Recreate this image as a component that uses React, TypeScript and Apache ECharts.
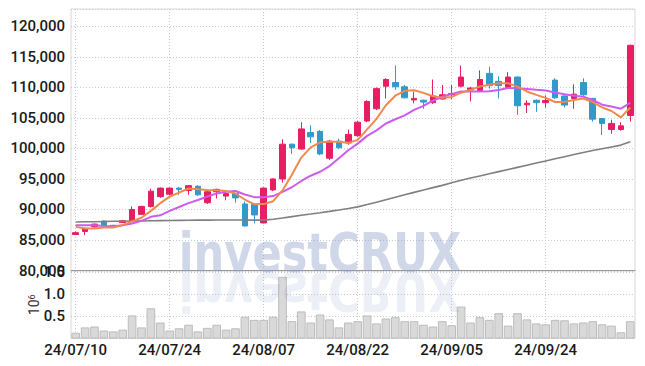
import React, { useEffect, useRef } from 'react';
import * as echarts from 'echarts';

const dates = [
  '24/07/10', '24/07/11', '24/07/12', '24/07/15', '24/07/16', '24/07/17', '24/07/18', '24/07/19', '24/07/22', '24/07/23',
  '24/07/24', '24/07/25', '24/07/26', '24/07/29', '24/07/30', '24/07/31', '24/08/01', '24/08/02', '24/08/05', '24/08/06',
  '24/08/07', '24/08/08', '24/08/09', '24/08/12', '24/08/13', '24/08/14', '24/08/16', '24/08/19', '24/08/20', '24/08/21',
  '24/08/22', '24/08/23', '24/08/26', '24/08/27', '24/08/28', '24/08/29', '24/08/30', '24/09/02', '24/09/03', '24/09/04',
  '24/09/05', '24/09/06', '24/09/09', '24/09/10', '24/09/11', '24/09/12', '24/09/13', '24/09/19', '24/09/20', '24/09/23',
  '24/09/24', '24/09/25', '24/09/26', '24/09/27', '24/09/30', '24/10/02', '24/10/04', '24/10/07', '24/10/08', '24/10/10',
];

const opens = [
  85900, 86400, 87150, 88100, 87400, 87850, 88100, 89200, 90500, 92100,
  92500, 93500, 93100, 93800, 91100, 92900, 92200, 92600, 90900, 90900,
  87800, 93200, 95000, 100700, 99900, 102600, 102800, 98400, 101200, 100900,
  102100, 104500, 106500, 110200, 110800, 110100, 107950, 107900, 107500, 108100,
  108800, 110200, 109600, 109500, 112300, 111000, 110000, 111700, 107150, 107900,
  107500, 111200, 108600, 108200, 110800, 108200, 104900, 103100, 103100, 105400,
];
const closes = [
  86200, 86900, 87600, 87350, 87200, 88150, 90000, 90500, 93000, 93500,
  93500, 93300, 93900, 92400, 92900, 93300, 92600, 91900, 87300, 89100,
  93500, 95000, 100700, 100100, 103200, 101900, 99100, 101200, 100100, 102300,
  104300, 107700, 109800, 111300, 110100, 108300, 108200, 107600, 108600, 108800,
  109000, 111700, 109900, 111300, 110300, 110300, 111700, 107000, 107400, 107500,
  107850, 108300, 107100, 108900, 108800, 104800, 104100, 104100, 103700, 116900,
];
const lows = [
  85800, 85800, 86900, 87200, 87100, 87800, 88000, 89100, 90300, 91900,
  92300, 92400, 92400, 92200, 90900, 91800, 91500, 91100, 87200, 87700,
  87700, 93000, 94400, 99100, 99800, 100900, 98900, 98100, 99900, 100600,
  101900, 104300, 106300, 108200, 109600, 108200, 107400, 106500, 107300, 108000,
  108100, 110000, 107700, 109300, 109800, 108200, 109800, 105500, 105800, 106000,
  106700, 108100, 106700, 106500, 108600, 104400, 102200, 102400, 102900, 104400,
];
const highs = [
  86400, 87000, 87700, 88200, 87500, 88300, 90500, 90600, 93400, 93600,
  93600, 93700, 94000, 94000, 93000, 93400, 92700, 92700, 91300, 91000,
  93600, 95100, 101500, 100800, 104300, 103800, 103000, 101400, 101600, 103100,
  104500, 107900, 110000, 111500, 113600, 110400, 109300, 108000, 111300, 110400,
  110400, 113600, 110100, 112800, 113400, 111800, 112500, 111800, 107900, 108000,
  108700, 111500, 108700, 110500, 111500, 108300, 105000, 104700, 104300, 117000,
];

// volume, in millions of shares
const volumes = [
  0.13, 0.25, 0.27, 0.18, 0.16, 0.20, 0.52, 0.25, 0.68, 0.36,
  0.18, 0.23, 0.31, 0.16, 0.24, 0.31, 0.20, 0.23, 0.49, 0.42,
  0.42, 0.49, 1.39, 0.39, 0.61, 0.36, 0.54, 0.43, 0.25, 0.36,
  0.39, 0.52, 0.34, 0.45, 0.48, 0.39, 0.39, 0.31, 0.27, 0.39,
  0.30, 0.72, 0.36, 0.48, 0.42, 0.57, 0.29, 0.57, 0.43, 0.34,
  0.32, 0.42, 0.41, 0.34, 0.36, 0.39, 0.32, 0.29, 0.14, 0.39,
];

// moving-average values read off the chart where the earlier history is not in view
const ma5Lead = [87150, 86900, 86900, 87050];
const ma10Lead = [87430, 87430, 87430, 87300, 87260, 87400, 87700, 88130, 88790];
const ma60 = [
  87950, 87980, 88000, 88030, 88060, 88080, 88100, 88120, 88150, 88170,
  88190, 88210, 88230, 88250, 88260, 88270, 88280, 88280, 88270, 88260,
  88250, 88400, 88600, 88830, 89060, 89260, 89470, 89690, 89920, 90170,
  90430, 90800, 91200, 91600, 92000, 92400, 92800, 93200, 93580, 93950,
  94380, 94800, 95150, 95500, 95850, 96200, 96550, 96900, 97250, 97600,
  97950, 98300, 98650, 99000, 99330, 99650, 99950, 100250, 100550, 101100,
];

function movingAverage(n: number, lead: number[]) {
  return closes.map((_, i) => {
    if (i < lead.length) return lead[i];
    let s = 0;
    for (let k = i - n + 1; k <= i; k++) s += closes[k];
    return Math.round(s / n);
  });
}

const FONT = 'Roboto, sans-serif';
const UP = '#e81e63';
const DOWN = '#3398cb';
const GRID_LINE = { color: '#c6c9dc', type: [1, 2] as any, width: 1 };

export default function App() {
  const ref = useRef<HTMLDivElement>(null);
  useEffect(() => {
    document.body.style.margin = '0';
    const chart = echarts.init(ref.current!, null, { renderer: 'svg' });
    const ma5 = movingAverage(5, ma5Lead);
    const ma10 = movingAverage(10, ma10Lead);
    const priceMax = Math.max(...highs) * 1.05;
    const labelStyle = { color: '#1a1a1a', fontFamily: FONT, fontSize: 15, fontWeight: 500 };
    const wmBase = {
      text: 'investCRUX', font: 'bold 54px "DejaVu Sans"',
      fontFamily: '"DejaVu Sans"', fontWeight: 'bold', fontSize: 54,
      align: 'center', verticalAlign: 'middle', textAlign: 'center', textVerticalAlign: 'middle',
    };
    const option: any = {
      animation: false,
      backgroundColor: '#ffffff',
      grid: [
        { left: 71, right: 10, top: 9, height: 261.5, show: true, borderColor: '#d8d8d8', borderWidth: 1 },
        { left: 71, right: 10, top: 271, height: 67.5, show: true, borderColor: '#d8d8d8', borderWidth: 1 },
      ],
      xAxis: [
        {
          type: 'category', data: dates, gridIndex: 0, boundaryGap: true,
          axisLabel: { show: false }, axisTick: { show: false },
          axisLine: { show: true, lineStyle: { color: '#999999' } },
          splitLine: { show: true, interval: 9, alignWithLabel: true, lineStyle: GRID_LINE },
        },
        {
          type: 'category', data: dates, gridIndex: 1, boundaryGap: true,
          axisLabel: { ...labelStyle, interval: 9, margin: 4 },
          axisTick: { show: false }, axisLine: { show: false },
          splitLine: { show: true, interval: 9, alignWithLabel: true, lineStyle: GRID_LINE },
        },
      ],
      yAxis: [
        {
          type: 'value', gridIndex: 0, min: 80000, max: priceMax, interval: 5000,
          axisLine: { show: false }, axisTick: { show: false },
          axisLabel: {
            ...labelStyle, margin: 6,
            formatter: (v: number) => (v % 5000 === 0 ? v.toLocaleString('en-US') : ''),
          },
          splitLine: { show: true, lineStyle: GRID_LINE },
        },
        {
          type: 'value', gridIndex: 1, min: 0, max: 1.52, interval: 0.5,
          axisLine: { show: false }, axisTick: { show: false },
          axisLabel: {
            ...labelStyle, margin: 6, showMinLabel: false,
            formatter: (v: number) => (v > 0 && Math.abs(v * 2 - Math.round(v * 2)) < 1e-6 ? v.toFixed(1) : ''),
          },
          splitLine: { show: true, lineStyle: GRID_LINE },
          name: '{a|10}{b|6}', nameLocation: 'middle', nameRotate: 90, nameGap: 30,
          nameMoveOverlap: false,
          nameTextStyle: {
            rich: {
              a: { fontSize: 14, fontFamily: FONT, color: '#333' },
              b: { fontSize: 9, fontFamily: FONT, color: '#333', verticalAlign: 'top' },
            },
          },
        },
      ],
      series: [
        {
          type: 'candlestick', xAxisIndex: 0, yAxisIndex: 0, barWidth: 6,
          data: opens.map((o, i) => [o, closes[i], lows[i], highs[i]]),
          itemStyle: { color: UP, color0: DOWN, borderColor: UP, borderColor0: DOWN, borderWidth: 1 },
        },
        { type: 'line', xAxisIndex: 0, yAxisIndex: 0, data: ma60, symbol: 'none', lineStyle: { color: '#7f7f7f', width: 1.6 } },
        { type: 'line', xAxisIndex: 0, yAxisIndex: 0, data: ma10, symbol: 'none', lineStyle: { color: '#cc5ced', width: 2 } },
        { type: 'line', xAxisIndex: 0, yAxisIndex: 0, data: ma5, symbol: 'none', lineStyle: { color: '#ef8a4c', width: 2 } },
        {
          type: 'bar', xAxisIndex: 1, yAxisIndex: 1, data: volumes, barWidth: '92%',
          itemStyle: { color: '#d9d9d9', borderColor: '#bcbcbc', borderWidth: 1 },
        },
      ],
      graphic: [
        {
          type: 'text', x: 320, y: 253, scaleX: 0.8, z: 100, silent: true,
          style: { ...wmBase, fill: 'rgba(135,155,200,0.40)' },
        },
        {
          type: 'text', x: 320, y: 291, scaleX: 0.8, scaleY: -1, z: 100, silent: true,
          style: { ...wmBase, fill: 'rgba(135,155,200,0.18)' },
        },
      ],
    };
    chart.setOption(option);
    return () => chart.dispose();
  }, []);
  return <div ref={ref} style={{ width: 645, height: 366 }} />;
}
